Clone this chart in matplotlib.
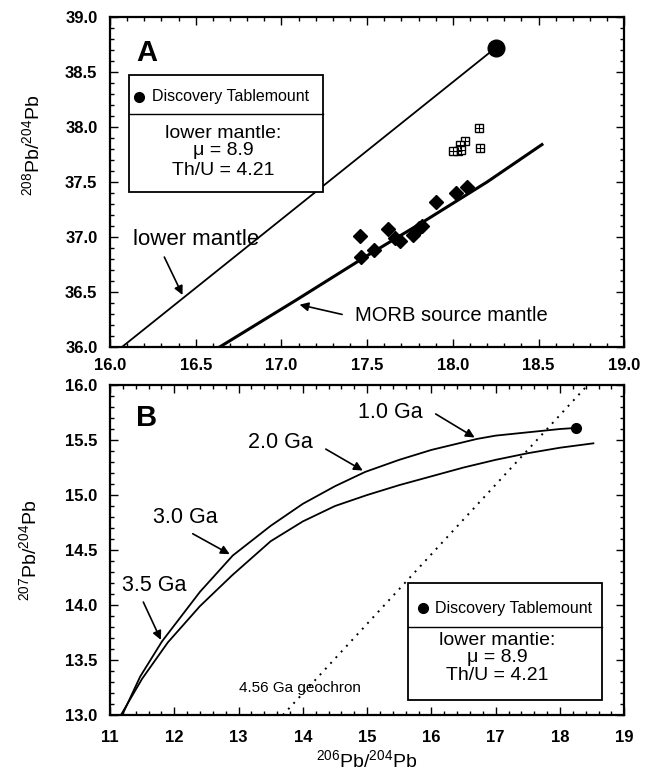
import matplotlib
matplotlib.use("Agg")
import matplotlib.pyplot as plt
from matplotlib.patches import Rectangle
from matplotlib.lines import Line2D
from matplotlib.ticker import MultipleLocator

plt.rcParams["font.family"] = ["Liberation Sans", "DejaVu Sans"]
plt.rcParams["mathtext.fontset"] = "custom"
plt.rcParams["mathtext.rm"] = "Liberation Sans"
plt.rcParams["mathtext.it"] = "Liberation Sans:italic"
plt.rcParams["mathtext.bf"] = "Liberation Sans:bold"

# --- panel A: 208Pb/204Pb vs 206Pb/204Pb ---
lm_line_x = [16.07, 18.25]
lm_line_y = [36.0, 38.72]
morb_x = [16.64, 17.09, 17.50, 17.83, 18.20, 18.52]
morb_y = [36.00, 36.43, 36.83, 37.14, 37.50, 37.84]
discovery_a = (18.25, 38.72)
diamond_x = [17.46, 17.465, 17.54, 17.62, 17.66, 17.69, 17.77, 17.80, 17.82, 17.90, 18.02, 18.08]
diamond_y = [37.01, 36.82, 36.88, 37.07, 36.99, 36.96, 37.02, 37.08, 37.10, 37.32, 37.40, 37.45]
square_x = [18.15, 18.16, 18.07, 18.04, 18.03, 18.00, 18.05]
square_y = [37.99, 37.81, 37.87, 37.84, 37.78, 37.78, 37.79]

# --- panel B: 207Pb/204Pb vs 206Pb/204Pb ---
upper_x = [11.19, 11.47, 11.81, 12.40, 12.91, 13.50, 14.00, 14.50, 14.97, 15.50,
           16.00, 16.71, 17.00, 17.50, 18.00, 18.25]
upper_y = [13.00, 13.35, 13.67, 14.12, 14.45, 14.72, 14.92, 15.08, 15.21, 15.32,
           15.41, 15.51, 15.54, 15.57, 15.60, 15.61]
lower_x = [11.17, 11.50, 11.90, 12.40, 12.90, 13.50, 14.00, 14.50, 15.00, 15.50,
           16.00, 16.50, 17.00, 17.50, 18.00, 18.52]
lower_y = [13.00, 13.33, 13.66, 13.99, 14.27, 14.58, 14.76, 14.90, 15.00, 15.09,
           15.17, 15.25, 15.32, 15.38, 15.43, 15.47]
geochron_x = [13.69, 18.40]
geochron_y = [13.00, 15.98]
discovery_b = (18.25, 15.61)

# age labels: (text, text xy, arrow tail, arrow head)
age_labels = [
    ("1.0 Ga", (14.86, 15.75), (16.03, 15.75), (16.71, 15.51)),
    ("2.0 Ga", (13.15, 15.48), (14.32, 15.43), (14.97, 15.21)),
    ("3.0 Ga", (11.67, 14.80), (12.25, 14.66), (12.90, 14.45)),
    ("3.5 Ga", (11.19, 14.18), (11.50, 14.05), (11.81, 13.66)),
]


def style_axes(ax, xminor, yminor, xpad):
    ax.xaxis.set_minor_locator(MultipleLocator(xminor))
    ax.yaxis.set_minor_locator(MultipleLocator(yminor))
    ax.tick_params(which="both", direction="in", top=True, right=True, width=1)
    ax.tick_params(which="major", length=6)
    ax.tick_params(which="minor", length=3)
    ax.tick_params(axis="x", pad=xpad)
    ax.tick_params(axis="y", pad=9)
    for s in ax.spines.values():
        s.set_linewidth(1.6)
    for lab in ax.get_xticklabels() + ax.get_yticklabels():
        lab.set_fontweight("bold")
        lab.set_fontsize(12)


def legend_box(ax, x0, x1, y0, y1, ydiv, ydisc, xdot, xtxt, xc, ylines, lm_text):
    ax.add_patch(Rectangle((x0, y0), x1 - x0, y1 - y0, transform=ax.transAxes,
                           fill=True, fc="white", ec="black", lw=1.3, zorder=5))
    ax.add_line(Line2D([x0, x1], [ydiv, ydiv], transform=ax.transAxes,
                       color="black", lw=1.0, zorder=6))
    ax.plot([xdot], [ydisc], "o", color="black", ms=7, transform=ax.transAxes,
            zorder=6, clip_on=False)
    ax.text(xtxt, ydisc, "Discovery Tablemount", transform=ax.transAxes,
            fontsize=11.5, va="center", ha="left", zorder=6)
    for t, y in zip([lm_text, "\u03bc = 8.9", "Th/U = 4.21"], ylines):
        ax.text(xc, y, t, transform=ax.transAxes, fontsize=14,
                va="center", ha="center", zorder=6)


fig = plt.figure(figsize=(6.52, 7.75), dpi=100)
axA = fig.add_axes([0.1687, 0.5523, 0.7887, 0.4258])
axB = fig.add_axes([0.1687, 0.0774, 0.7887, 0.4258])

arrow = dict(arrowstyle="-|>", color="black", lw=1.2, mutation_scale=13)

# panel A
axA.plot(lm_line_x, lm_line_y, color="black", lw=1.3)
axA.plot(morb_x, morb_y, color="black", lw=2.2)
axA.plot(*discovery_a, "o", color="black", ms=12, clip_on=False, zorder=4)
axA.plot(diamond_x, diamond_y, "D", color="black", ms=7, ls="none")
axA.plot(square_x, square_y, "s", mfc="white", mec="black", ms=6, mew=1.0, ls="none")
axA.plot(square_x, square_y, "+", color="black", ms=6, mew=0.8, ls="none")
axA.set_xlim(16.0, 19.0)
axA.set_ylim(36.0, 39.0)
axA.xaxis.set_major_locator(MultipleLocator(0.5))
axA.yaxis.set_major_locator(MultipleLocator(0.5))
axA.xaxis.set_major_formatter(plt.FormatStrFormatter("%.1f"))
axA.yaxis.set_major_formatter(plt.FormatStrFormatter("%.1f"))
style_axes(axA, 0.1, 0.1, 8)
axA.set_ylabel("$^{208}$Pb/$^{204}$Pb", fontsize=14)
axA.yaxis.set_label_coords(-0.13, 0.61)
axA.text(0.072, 0.89, "A", transform=axA.transAxes, fontsize=21,
         fontweight="bold", ha="center", va="center")
axA.annotate("", xy=(16.43, 36.45), xytext=(16.31, 36.84), arrowprops=arrow)
axA.text(16.50, 36.98, "lower mantle", fontsize=16, ha="center", va="center")
axA.annotate("", xy=(17.09, 36.39), xytext=(17.37, 36.29), arrowprops=arrow)
axA.text(17.43, 36.29, "MORB source mantle", fontsize=14.5, ha="left", va="center")
legend_box(axA, 0.037, 0.414, 0.470, 0.824, 0.706, 0.758, 0.056, 0.082, 0.22,
           [0.648, 0.595, 0.535], "lower mantle:")

# panel B
axB.plot(upper_x, upper_y, color="black", lw=1.3)
axB.plot(lower_x, lower_y, color="black", lw=1.3)
axB.plot(geochron_x, geochron_y, color="black", lw=1.4, ls=(0, (1, 3)))
axB.plot(*discovery_b, "o", color="black", ms=7, zorder=4)
axB.set_xlim(11, 19)
axB.set_ylim(13.0, 16.0)
axB.xaxis.set_major_locator(MultipleLocator(1))
axB.yaxis.set_major_locator(MultipleLocator(0.5))
axB.yaxis.set_major_formatter(plt.FormatStrFormatter("%.1f"))
style_axes(axB, 0.2, 0.1, 11)
axB.set_ylabel("$^{207}$Pb/$^{204}$Pb", fontsize=14)
axB.yaxis.set_label_coords(-0.135, 0.5)
axB.set_xlabel("$^{206}$Pb/$^{204}$Pb", fontsize=14, labelpad=3)
axB.text(0.072, 0.90, "B", transform=axB.transAxes, fontsize=21,
         fontweight="bold", ha="center", va="center")
for txt, xy, tail, head in age_labels:
    axB.text(xy[0], xy[1], txt, fontsize=15.5, ha="left", va="center")
    axB.annotate("", xy=head, xytext=tail, arrowprops=arrow)
axB.text(13.01, 13.25, "4.56 Ga geochron", fontsize=11, ha="left", va="center")
legend_box(axB, 0.580, 0.957, 0.045, 0.400, 0.267, 0.324, 0.609, 0.632, 0.753,
           [0.227, 0.173, 0.121], "lower mantie:")

fig.savefig("out.png", dpi=100)
